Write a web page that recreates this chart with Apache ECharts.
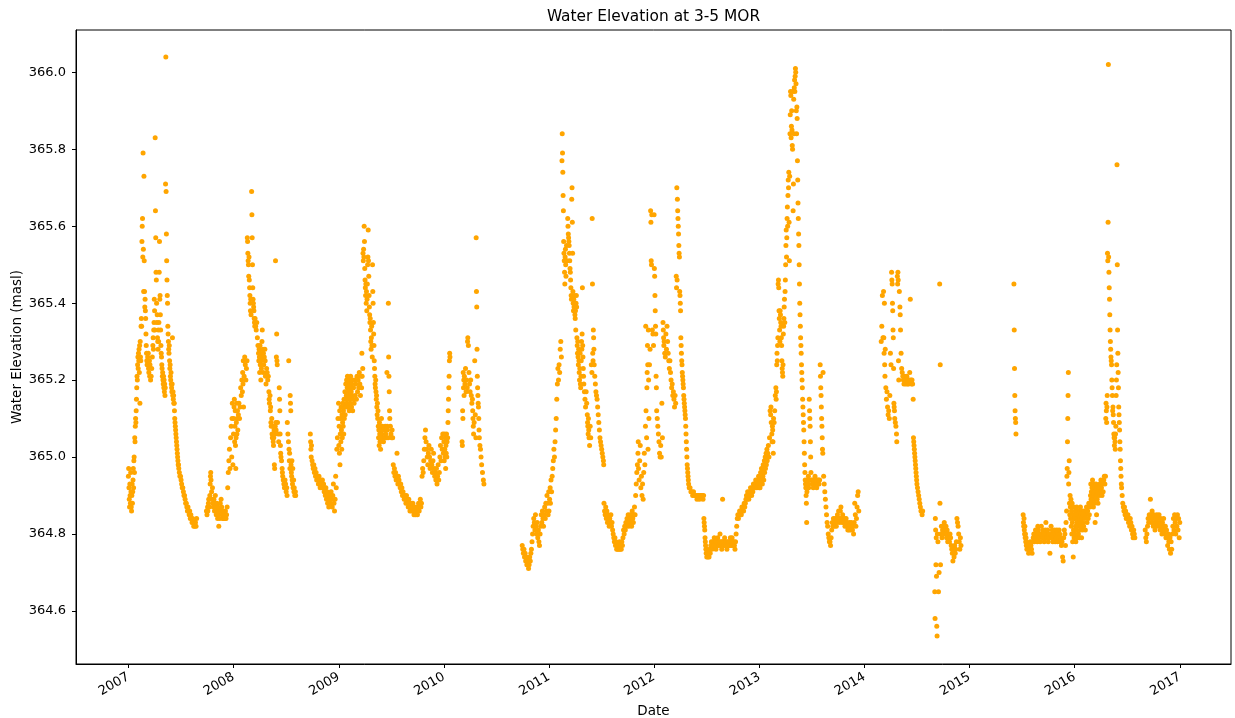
<!DOCTYPE html>
<html>
<head>
<meta charset="utf-8">
<title>Water Elevation at 3-5 MOR</title>
<script src="https://cdn.jsdelivr.net/npm/echarts@6/dist/echarts.min.js"></script>
<style>
  html, body { margin: 0; padding: 0; background: #fff; }
  #chart { width: 1235px; height: 718px; }
</style>
</head>
<body>
<div id="chart"></div>
<script>
// Daily water elevation readings (masl), one array per calendar year: [day of year, elevation]
const y2007 = [[1,364.95],[2,364.97],[3,364.92],[4,364.89],[5,364.87],[6,364.93],[7,364.90],[8,364.88],[9,364.96],[10,364.91],[11,364.87],[12,364.86],[13,364.90],[14,364.93],[15,364.88],[16,364.91],[17,364.94],[18,364.97],[19,364.92],[20,364.99],[21,365.00],[22,364.96],[23,365.05],[24,365.04],[25,365.08],[26,365.10],[27,365.09],[28,365.12],[29,365.15],[30,365.18],[31,365.21],[32,365.20],[33,365.24],[34,365.26],[35,365.23],[36,365.27],[37,365.25],[38,365.28],[39,365.22],[40,365.29],[41,365.14],[42,365.30],[43,365.26],[44,365.25],[45,365.34],[46,365.36],[47,365.34],[48,365.56],[49,365.60],[50,365.62],[51,365.52],[52,365.79],[53,365.54],[54,365.43],[55,365.73],[56,365.51],[57,365.43],[58,365.39],[59,365.41],[60,365.38],[61,365.36],[62,365.32],[63,365.29],[64,365.27],[65,365.25],[66,365.24],[68,365.26],[70,365.27],[71,365.23],[72,365.22],[74,365.25],[75,365.21],[76,365.24],[78,365.20],[80,365.21],[82,365.23],[84,365.26],[86,365.29],[87,365.31],[88,365.28],[89,365.33],[90,365.35],[91,365.41],[92,365.38],[93,365.33],[94,365.83],[95,365.64],[96,365.57],[97,365.48],[98,365.46],[99,365.40],[100,365.35],[101,365.37],[102,365.31],[103,365.30],[104,365.28],[105,365.33],[106,365.30],[107,365.35],[108,365.48],[109,365.56],[110,365.41],[111,365.42],[112,365.37],[113,365.33],[114,365.29],[115,365.27],[116,365.26],[117,365.24],[118,365.23],[119,365.21],[120,365.22],[121,365.20],[122,365.19],[123,365.21],[124,365.18],[125,365.20],[126,365.17],[127,365.19],[128,365.16],[129,365.18],[130,365.71],[131,366.04],[132,365.69],[133,365.58],[134,365.51],[135,365.46],[136,365.42],[137,365.40],[138,365.34],[139,365.32],[140,365.30],[141,365.28],[142,365.27],[143,365.29],[144,365.25],[145,365.23],[146,365.24],[147,365.21],[148,365.20],[149,365.22],[150,365.19],[151,365.18],[152,365.17],[153,365.19],[154,365.31],[155,365.16],[156,365.17],[157,365.15],[158,365.16],[159,365.14],[160,365.14],[161,365.12],[162,365.10],[163,365.09],[164,365.08],[165,365.07],[166,365.06],[167,365.05],[168,365.04],[169,365.03],[170,365.02],[171,365.01],[172,365.00],[173,364.99],[174,364.98],[175,364.98],[176,364.97],[178,364.96],[180,364.95],[182,364.95],[184,364.94],[186,364.93],[188,364.92],[190,364.92],[192,364.91],[194,364.90],[196,364.90],[198,364.89],[200,364.88],[202,364.88],[204,364.87],[206,364.86],[208,364.87],[210,364.86],[212,364.85],[214,364.86],[216,364.84],[218,364.85],[220,364.84],[222,364.83],[224,364.84],[226,364.83],[228,364.82],[230,364.83],[232,364.82],[234,364.83],[236,364.82],[238,364.84],[272,364.86],[274,364.85],[276,364.87],[277,364.86],[279,364.88],[280,364.89],[282,364.87],[284,364.90],[285,364.93],[286,364.95],[287,364.96],[288,364.94],[290,364.91],[291,364.89],[293,364.92],[294,364.88],[296,364.87],[298,364.89],[300,364.86],[301,364.88],[303,364.90],[304,364.87],[306,364.85],[308,364.88],[309,364.86],[311,364.84],[312,364.87],[314,364.85],[315,364.82],[317,364.86],[318,364.84],[320,364.88],[322,364.86],[323,364.89],[325,364.87],[327,364.85],[328,364.84],[330,364.86],[332,364.84],[334,364.85],[336,364.84],[338,364.86],[340,364.84],[342,364.85],[344,364.87],[346,364.92],[348,364.96],[350,364.99],[352,365.02],[354,364.97],[356,365.05],[358,365.08],[360,365.00],[361,365.10],[362,365.14],[364,364.98]];

const y2008 = [[1,365.06],[2,365.10],[3,365.13],[4,365.15],[5,365.04],[6,365.08],[7,365.12],[8,365.03],[9,364.97],[10,365.05],[11,365.09],[12,365.14],[13,365.06],[14,365.10],[15,365.12],[16,365.07],[18,365.11],[20,365.14],[22,365.10],[24,365.13],[26,365.18],[28,365.16],[30,365.20],[32,365.17],[33,365.22],[34,365.19],[35,365.25],[36,365.13],[38,365.21],[40,365.26],[42,365.24],[44,365.20],[46,365.23],[48,365.25],[49,365.57],[50,365.56],[51,365.53],[52,365.51],[53,365.50],[54,365.47],[55,365.52],[56,365.46],[57,365.44],[58,365.42],[59,365.40],[60,365.38],[61,365.41],[62,365.37],[64,365.69],[65,365.63],[66,365.57],[67,365.50],[68,365.44],[69,365.41],[70,365.40],[71,365.39],[72,365.38],[73,365.36],[74,365.35],[75,365.34],[76,365.36],[78,365.34],[80,365.33],[82,365.35],[84,365.31],[86,365.29],[88,365.27],[89,365.25],[90,365.28],[91,365.26],[92,365.22],[93,365.29],[94,365.24],[95,365.27],[96,365.20],[97,365.25],[98,365.23],[100,365.30],[101,365.33],[102,365.26],[103,365.28],[104,365.22],[105,365.27],[106,365.24],[108,365.26],[110,365.28],[111,365.25],[112,365.21],[114,365.19],[116,365.23],[118,365.22],[120,365.20],[122,365.21],[124,365.17],[125,365.15],[126,365.14],[128,365.16],[129,365.12],[130,365.13],[131,365.09],[132,365.08],[134,365.10],[135,365.06],[136,365.05],[138,365.08],[139,365.04],[140,365.03],[141,365.05],[142,365.07],[143,364.98],[144,364.97],[145,365.06],[146,365.08],[147,365.51],[148,365.09],[149,365.07],[150,365.26],[151,365.32],[152,365.25],[153,365.24],[154,365.09],[156,365.06],[158,365.04],[160,365.18],[161,365.15],[162,365.12],[163,365.06],[164,365.03],[165,365.01],[166,365.00],[168,364.99],[170,364.97],[171,364.96],[172,364.95],[174,364.94],[176,364.93],[178,364.92],[180,364.94],[182,364.93],[184,364.91],[186,364.92],[187,364.90],[188,365.09],[190,365.06],[192,365.04],[193,365.25],[194,365.02],[195,364.99],[196,365.01],[197,364.97],[198,365.16],[199,365.14],[200,365.12],[201,364.98],[202,364.96],[203,364.95],[204,364.99],[205,364.94],[206,364.93],[207,364.97],[208,364.92],[210,364.94],[211,364.91],[212,364.92],[214,364.90],[216,364.91],[217,364.90],[268,365.06],[269,365.04],[270,365.02],[271,365.00],[272,365.03],[274,364.99],[276,364.98],[278,364.97],[280,364.98],[282,364.96],[284,364.97],[286,364.95],[288,364.96],[290,364.94],[292,364.95],[294,364.94],[296,364.93],[298,364.95],[300,364.93],[302,364.92],[304,364.94],[306,364.93],[308,364.92],[310,364.94],[312,364.92],[314,364.93],[316,364.91],[318,364.92],[320,364.90],[322,364.92],[324,364.89],[326,364.91],[328,364.88],[330,364.90],[332,364.87],[334,364.89],[336,364.90],[338,364.88],[340,364.91],[342,364.89],[344,364.87],[346,364.90],[348,364.93],[350,364.88],[352,364.86],[354,364.89],[356,364.95],[358,364.92],[360,365.02],[362,365.05],[364,365.10],[366,365.14]];

const y2009 = [[1,365.03],[2,365.08],[3,365.01],[4,365.12],[5,364.98],[6,365.06],[7,365.10],[8,365.04],[9,365.13],[10,365.07],[11,365.02],[12,365.11],[13,365.05],[14,365.09],[15,365.14],[16,365.08],[17,365.12],[18,365.06],[19,365.15],[20,365.10],[21,365.13],[22,365.17],[23,365.11],[24,365.15],[25,365.19],[26,365.13],[27,365.16],[28,365.20],[29,365.14],[30,365.18],[31,365.21],[32,365.15],[33,365.19],[34,365.13],[35,365.17],[36,365.20],[37,365.12],[38,365.16],[39,365.19],[40,365.14],[41,365.18],[42,365.21],[43,365.15],[44,365.17],[45,365.13],[46,365.19],[47,365.16],[48,365.20],[49,365.12],[50,365.15],[52,365.18],[54,365.14],[56,365.20],[58,365.16],[60,365.19],[62,365.15],[64,365.21],[66,365.17],[68,365.20],[70,365.18],[72,365.22],[74,365.19],[76,365.16],[78,365.21],[80,365.18],[81,365.27],[82,365.21],[84,365.23],[85,365.53],[86,365.51],[87,365.54],[88,365.52],[89,365.60],[90,365.56],[91,365.49],[92,365.46],[93,365.44],[94,365.42],[95,365.45],[96,365.40],[97,365.43],[98,365.38],[99,365.41],[100,365.45],[101,365.50],[102,365.52],[103,365.59],[104,365.51],[105,365.47],[106,365.42],[107,365.39],[108,365.37],[109,365.35],[110,365.36],[111,365.33],[112,365.30],[113,365.28],[114,365.31],[115,365.34],[116,365.29],[117,365.26],[118,365.50],[119,365.43],[120,365.40],[121,365.35],[122,365.32],[123,365.29],[124,365.25],[125,365.23],[126,365.21],[127,365.19],[128,365.18],[129,365.20],[130,365.17],[131,365.15],[132,365.16],[133,365.13],[134,365.11],[135,365.14],[136,365.10],[137,365.12],[138,365.08],[139,365.05],[140,365.07],[141,365.03],[142,365.09],[143,365.06],[144,365.04],[145,365.08],[146,365.02],[147,365.07],[148,365.05],[149,365.10],[150,365.06],[152,365.08],[154,365.05],[156,365.04],[158,365.07],[160,365.05],[162,365.08],[164,365.06],[166,365.05],[168,365.22],[169,365.08],[170,365.07],[172,365.05],[173,365.40],[174,365.26],[175,365.21],[176,365.17],[177,365.12],[178,365.10],[180,365.08],[182,365.06],[184,365.05],[186,365.07],[188,365.05],[190,364.98],[192,364.96],[194,364.97],[196,364.95],[198,364.96],[200,364.94],[203,365.01],[204,364.95],[206,364.93],[208,364.95],[210,364.94],[212,364.93],[214,364.92],[216,364.93],[218,364.91],[220,364.92],[222,364.90],[224,364.91],[226,364.90],[228,364.89],[230,364.90],[232,364.89],[234,364.88],[236,364.90],[238,364.89],[240,364.88],[242,364.87],[244,364.89],[246,364.88],[248,364.86],[250,364.87],[252,364.88],[254,364.86],[256,364.87],[258,364.88],[260,364.86],[262,364.85],[264,364.87],[266,364.86],[268,364.85],[270,364.86],[272,364.87],[274,364.85],[276,364.86],[278,364.88],[280,364.86],[282,364.87],[284,364.89],[286,364.87],[288,364.88],[290,364.95],[292,364.97],[294,364.96],[296,364.99],[298,365.02],[300,365.05],[302,365.07],[304,365.04],[306,365.02],[308,365.00],[310,364.98],[312,365.01],[314,365.03],[316,365.00],[318,364.97],[320,364.99],[322,365.02],[324,364.98],[326,364.96],[328,364.99],[330,365.01],[332,364.97],[334,364.95],[336,364.96],[338,364.94],[340,364.97],[342,364.93],[344,364.95],[346,364.98],[348,364.94],[350,364.96],[352,365.00],[354,365.03],[356,364.99],[358,365.05],[360,365.02],[362,365.06],[364,365.01]];

const y2010 = [[1,365.04],[2,364.99],[3,365.06],[4,365.02],[5,365.00],[6,365.05],[7,364.97],[8,365.03],[9,365.01],[10,365.06],[11,365.00],[12,365.04],[14,365.05],[15,365.09],[16,365.12],[17,365.15],[18,365.18],[19,365.21],[20,365.25],[21,365.27],[22,365.26],[64,365.04],[65,365.03],[66,365.12],[67,365.10],[68,365.22],[69,365.18],[70,365.20],[71,365.16],[72,365.21],[74,365.19],[76,365.23],[78,365.17],[80,365.20],[82,365.18],[83,365.30],[84,365.31],[86,365.29],[88,365.22],[90,365.19],[92,365.17],[94,365.20],[96,365.16],[98,365.14],[100,365.15],[101,365.12],[102,365.10],[103,365.08],[104,365.06],[106,365.09],[108,365.25],[110,365.11],[112,365.05],[113,365.57],[114,365.43],[115,365.39],[116,365.28],[117,365.21],[118,365.18],[119,365.16],[120,365.14],[121,365.13],[122,365.10],[123,365.07],[124,365.05],[126,365.03],[128,365.02],[130,365.00],[132,364.98],[135,364.96],[138,364.94],[140,364.93],[273,364.77],[275,364.76],[277,364.75],[279,364.76],[281,364.74],[283,364.75],[285,364.73],[287,364.74],[289,364.72],[291,364.73],[293,364.72],[295,364.71],[297,364.72],[299,364.74],[301,364.73],[303,364.75],[305,364.76],[307,364.78],[309,364.80],[311,364.82],[313,364.84],[315,364.83],[317,364.81],[319,364.85],[321,364.82],[323,364.80],[325,364.83],[327,364.79],[329,364.81],[331,364.78],[333,364.77],[335,364.80],[337,364.82],[339,364.85],[341,364.83],[343,364.86],[345,364.84],[347,364.82],[349,364.85],[351,364.87],[353,364.84],[355,364.88],[357,364.86],[359,364.90],[361,364.88],[363,364.85],[365,364.91]];

const y2011 = [[1,364.86],[3,364.89],[5,364.92],[6,364.88],[8,364.94],[10,364.91],[12,364.95],[14,364.97],[16,364.99],[18,365.02],[20,365.00],[22,365.04],[24,365.07],[26,365.10],[28,365.15],[30,365.19],[32,365.23],[34,365.20],[36,365.24],[38,365.22],[40,365.28],[42,365.30],[44,365.26],[46,365.77],[47,365.84],[48,365.79],[49,365.74],[50,365.68],[51,365.64],[52,365.56],[53,365.53],[54,365.51],[55,365.48],[56,365.45],[57,365.52],[58,365.54],[59,365.50],[60,365.47],[62,365.55],[64,365.51],[66,365.62],[67,365.60],[68,365.58],[69,365.57],[70,365.56],[71,365.55],[72,365.53],[73,365.51],[74,365.49],[75,365.48],[76,365.46],[77,365.44],[78,365.42],[79,365.41],[80,365.67],[81,365.70],[82,365.61],[83,365.53],[84,365.43],[85,365.40],[86,365.38],[87,365.41],[88,365.39],[89,365.42],[90,365.40],[91,365.37],[92,365.36],[93,365.38],[94,365.33],[95,365.40],[96,365.42],[97,365.39],[98,365.31],[99,365.29],[100,365.27],[101,365.30],[102,365.26],[103,365.24],[104,365.28],[105,365.25],[106,365.22],[107,365.20],[108,365.23],[109,365.27],[110,365.19],[111,365.18],[112,365.21],[113,365.25],[114,365.30],[115,365.28],[116,365.32],[117,365.44],[118,365.29],[119,365.26],[120,365.23],[121,365.21],[122,365.19],[124,365.17],[126,365.15],[128,365.13],[130,365.17],[132,365.14],[134,365.11],[135,365.09],[136,365.08],[137,365.06],[138,365.10],[139,365.07],[140,365.05],[142,365.03],[144,365.08],[146,365.05],[148,365.24],[150,365.22],[151,365.62],[152,365.45],[153,365.27],[154,365.25],[155,365.33],[156,365.31],[157,365.28],[158,365.24],[160,365.21],[162,365.19],[164,365.17],[166,365.16],[168,365.15],[170,365.13],[172,365.11],[174,365.09],[176,365.07],[178,365.05],[180,365.04],[182,365.03],[184,365.02],[186,365.01],[188,365.00],[190,364.99],[191,364.98],[192,364.88],[194,364.86],[196,364.85],[198,364.87],[200,364.84],[202,364.86],[204,364.83],[206,364.85],[208,364.84],[210,364.82],[212,364.84],[214,364.83],[216,364.85],[218,364.82],[220,364.83],[222,364.81],[224,364.80],[226,364.79],[228,364.78],[230,364.79],[232,364.77],[234,364.78],[236,364.76],[238,364.77],[240,364.76],[242,364.77],[244,364.76],[246,364.78],[248,364.76],[250,364.77],[252,364.76],[254,364.78],[256,364.77],[258,364.79],[260,364.81],[262,364.80],[264,364.82],[266,364.81],[268,364.83],[270,364.82],[272,364.84],[274,364.83],[276,364.85],[278,364.82],[280,364.84],[282,364.83],[284,364.85],[286,364.84],[288,364.82],[290,364.86],[292,364.84],[294,364.83],[296,364.85],[298,364.87],[300,364.85],[302,364.90],[304,364.93],[306,364.96],[308,364.98],[310,365.01],[311,365.04],[312,364.97],[314,364.94],[316,364.99],[318,365.03],[320,364.92],[322,364.95],[324,364.90],[326,364.93],[328,364.89],[330,364.96],[332,365.01],[334,364.98],[336,365.08],[337,365.34],[338,365.12],[340,365.05],[341,365.18],[342,365.22],[343,365.29],[344,365.24],[345,365.02],[346,365.33],[347,365.20],[348,365.10],[350,365.24],[352,365.28],[354,365.64],[355,365.61],[356,365.51],[357,365.50],[358,365.63],[360,365.33],[362,365.32],[364,365.29]];

const y2012 = [[1,365.63],[2,365.49],[3,365.47],[4,365.42],[5,365.38],[6,365.34],[7,365.32],[8,365.21],[9,365.18],[10,365.12],[12,365.10],[14,365.08],[16,365.06],[18,365.04],[20,365.01],[22,365.00],[24,365.03],[26,365.00],[28,365.14],[30,365.05],[32,365.35],[33,365.33],[34,365.31],[35,365.29],[36,365.30],[38,365.27],[40,365.26],[42,365.32],[44,365.28],[46,365.34],[48,365.30],[50,365.27],[52,365.25],[54,365.23],[56,365.25],[58,365.22],[60,365.20],[62,365.18],[64,365.19],[66,365.16],[68,365.17],[70,365.15],[72,365.13],[74,365.16],[76,365.14],[78,365.47],[79,365.44],[80,365.70],[81,365.46],[82,365.67],[83,365.64],[84,365.62],[85,365.60],[86,365.58],[87,365.55],[88,365.53],[89,365.52],[90,365.43],[91,365.42],[92,365.40],[93,365.38],[94,365.31],[95,365.29],[96,365.27],[97,365.25],[98,365.24],[99,365.22],[100,365.21],[101,365.20],[102,365.19],[103,365.18],[104,365.16],[105,365.15],[106,365.14],[107,365.13],[108,365.12],[109,365.11],[110,365.10],[111,365.08],[112,365.06],[113,365.04],[114,365.02],[115,365.00],[116,364.98],[117,364.97],[118,364.96],[119,364.95],[120,364.94],[121,364.93],[123,364.92],[126,364.92],[129,364.91],[132,364.91],[135,364.90],[138,364.91],[141,364.90],[144,364.90],[147,364.90],[150,364.89],[153,364.90],[156,364.90],[159,364.89],[162,364.90],[165,364.90],[168,364.90],[171,364.89],[173,364.90],[174,364.84],[175,364.83],[176,364.82],[177,364.81],[178,364.79],[179,364.78],[180,364.77],[181,364.76],[182,364.75],[183,364.76],[184,364.74],[186,364.75],[188,364.74],[190,364.75],[192,364.74],[194,364.76],[196,364.75],[198,364.77],[200,364.78],[202,364.76],[204,364.77],[206,364.78],[208,364.77],[210,364.79],[212,364.77],[214,364.78],[216,364.76],[218,364.78],[220,364.77],[222,364.79],[224,364.78],[226,364.77],[228,364.78],[230,364.80],[232,364.77],[234,364.78],[236,364.76],[238,364.78],[239,364.89],[240,364.77],[242,364.78],[244,364.77],[246,364.79],[248,364.78],[250,364.77],[252,364.78],[254,364.76],[256,364.77],[258,364.78],[260,364.77],[262,364.78],[264,364.77],[266,364.79],[268,364.78],[270,364.77],[272,364.79],[274,364.78],[276,364.77],[278,364.78],[280,364.77],[282,364.76],[284,364.78],[286,364.80],[288,364.82],[290,364.84],[292,364.85],[294,364.84],[296,364.85],[298,364.86],[300,364.85],[302,364.86],[304,364.85],[306,364.87],[308,364.86],[310,364.87],[312,364.86],[314,364.88],[316,364.87],[318,364.88],[320,364.89],[322,364.90],[324,364.89],[326,364.91],[328,364.90],[330,364.89],[332,364.91],[334,364.90],[336,364.92],[338,364.91],[340,364.90],[342,364.92],[344,364.91],[346,364.93],[348,364.92],[350,364.93],[352,364.92],[354,364.94],[356,364.93],[358,364.92],[360,364.94],[362,364.93],[364,364.95],[366,364.92]];

const y2013 = [[1,364.93],[2,364.95],[3,364.92],[4,364.94],[5,364.96],[6,364.93],[7,364.95],[8,364.97],[9,364.94],[10,364.96],[11,364.93],[12,364.97],[13,364.95],[14,364.98],[15,364.96],[16,364.94],[17,364.97],[18,364.99],[19,364.96],[20,364.98],[21,365.00],[22,364.97],[23,364.99],[24,365.01],[25,364.98],[26,365.00],[27,365.02],[28,364.99],[30,365.01],[32,365.03],[34,365.00],[36,365.05],[38,365.12],[40,365.11],[41,365.13],[42,365.09],[44,365.06],[45,365.04],[46,365.08],[47,365.07],[48,365.04],[49,365.01],[50,365.10],[52,365.09],[54,365.12],[56,365.16],[58,365.18],[59,365.15],[60,365.17],[61,365.24],[62,365.27],[63,365.25],[64,365.29],[65,365.31],[66,365.45],[67,365.46],[68,365.44],[69,365.38],[70,365.36],[71,365.33],[72,365.30],[73,365.38],[74,365.37],[75,365.35],[76,365.34],[77,365.31],[78,365.29],[79,365.25],[80,365.23],[81,365.22],[82,365.21],[83,365.24],[84,365.32],[85,365.34],[86,365.36],[87,365.39],[88,365.41],[89,365.35],[90,365.43],[91,365.46],[92,365.50],[93,365.55],[94,365.59],[95,365.52],[96,365.57],[97,365.62],[98,365.65],[99,365.60],[100,365.68],[101,365.72],[102,365.70],[103,365.74],[104,365.61],[105,365.51],[106,365.73],[107,365.84],[108,365.89],[109,365.95],[110,365.94],[111,365.83],[112,365.86],[113,365.90],[114,365.85],[115,365.81],[116,365.80],[117,365.95],[118,365.64],[119,365.71],[120,365.93],[121,365.84],[122,365.96],[123,365.98],[124,365.95],[125,365.99],[126,366.01],[127,366.00],[128,365.97],[129,365.90],[130,365.84],[131,365.91],[132,365.88],[133,365.77],[134,365.72],[135,365.66],[136,365.62],[137,365.58],[138,365.55],[139,365.50],[140,365.45],[141,365.40],[142,365.37],[143,365.34],[144,365.31],[145,365.29],[146,365.27],[147,365.24],[148,365.22],[149,365.20],[150,365.18],[151,365.15],[152,365.13],[153,365.11],[154,365.09],[155,365.07],[156,365.04],[157,365.01],[158,364.98],[159,364.96],[160,364.94],[161,364.93],[162,364.92],[163,364.90],[164,364.88],[165,364.83],[166,364.91],[167,364.93],[168,364.94],[169,364.92],[170,364.93],[171,364.95],[172,364.92],[173,364.94],[174,365.15],[175,365.12],[176,365.10],[177,365.08],[178,365.04],[179,365.00],[180,364.96],[182,364.94],[184,364.93],[186,364.94],[188,364.92],[190,364.94],[192,364.93],[194,364.95],[196,364.93],[198,364.94],[200,364.92],[202,364.94],[204,364.93],[206,364.94],[208,364.93],[210,364.94],[212,365.24],[213,365.21],[214,365.18],[215,365.16],[216,365.13],[217,365.10],[218,365.08],[219,365.05],[220,365.02],[221,365.01],[222,365.22],[224,364.95],[226,364.93],[228,364.91],[230,364.89],[232,364.87],[234,364.85],[236,364.83],[238,364.82],[240,364.80],[242,364.79],[244,364.78],[246,364.78],[248,364.77],[250,364.79],[252,364.81],[254,364.83],[256,364.82],[258,364.84],[260,364.83],[262,364.82],[264,364.84],[266,364.83],[268,364.82],[270,364.84],[272,364.85],[274,364.84],[276,364.86],[278,364.83],[280,364.84],[282,364.86],[284,364.87],[286,364.84],[288,364.83],[290,364.85],[292,364.84],[294,364.83],[296,364.84],[298,364.82],[300,364.83],[302,364.84],[304,364.82],[306,364.83],[308,364.81],[310,364.82],[312,364.81],[314,364.83],[316,364.82],[318,364.81],[320,364.83],[322,364.82],[324,364.81],[326,364.82],[328,364.80],[330,364.83],[332,364.88],[334,364.85],[336,364.82],[338,364.84],[340,364.87],[342,364.90],[344,364.91],[346,364.86]];

const y2014 = [[59,365.30],[61,365.34],[63,365.42],[65,365.31],[67,365.43],[68,365.31],[69,365.27],[70,365.40],[71,365.24],[72,365.21],[73,365.28],[75,365.18],[77,365.15],[79,365.17],[81,365.13],[83,365.11],[85,365.12],[87,365.10],[89,365.16],[91,365.27],[93,365.24],[95,365.48],[96,365.46],[97,365.45],[98,365.40],[99,365.38],[100,365.33],[101,365.31],[102,365.23],[103,365.14],[104,365.13],[105,365.12],[106,365.10],[108,365.09],[110,365.08],[112,365.06],[113,365.04],[115,365.47],[116,365.45],[117,365.48],[118,365.46],[119,365.25],[120,365.20],[122,365.43],[124,365.39],[125,365.37],[126,365.33],[128,365.27],[130,365.23],[132,365.22],[134,365.21],[136,365.20],[138,365.19],[140,365.21],[142,365.20],[144,365.19],[146,365.20],[148,365.21],[150,365.19],[152,365.20],[154,365.19],[156,365.20],[158,365.22],[160,365.41],[162,365.20],[164,365.19],[166,365.20],[168,365.19],[170,365.15],[171,365.05],[172,365.04],[173,365.03],[174,365.02],[175,365.01],[176,365.00],[177,364.99],[178,364.98],[179,364.97],[180,364.96],[181,364.95],[182,364.94],[183,364.93],[185,364.92],[187,364.91],[189,364.90],[191,364.89],[193,364.88],[195,364.87],[197,364.86],[199,364.86],[201,364.85],[203,364.86],[245,364.65],[246,364.58],[247,364.84],[248,364.81],[249,364.72],[250,364.79],[251,364.69],[252,364.56],[253,364.535],[254,364.80],[256,364.78],[258,364.65],[260,364.70],[262,365.45],[263,364.88],[264,365.24],[265,364.72],[266,364.80],[268,364.82],[270,364.79],[272,364.81],[274,364.80],[276,364.82],[278,364.83],[280,364.81],[282,364.80],[284,364.82],[286,364.79],[288,364.81],[290,364.78],[292,364.80],[294,364.79],[296,364.78],[298,364.80],[300,364.79],[302,364.77],[304,364.76],[306,364.75],[308,364.73],[310,364.76],[312,364.74],[314,364.77],[316,364.75],[318,364.76],[320,364.78],[322,364.84],[324,364.83],[326,364.82],[328,364.80],[330,364.78],[332,364.76],[334,364.79],[336,364.77]];

const y2015 = [[155,365.45],[156,365.33],[157,365.23],[158,365.16],[159,365.12],[160,365.10],[161,365.09],[162,365.06],[187,364.85],[188,364.83],[189,364.82],[190,364.84],[191,364.81],[192,364.80],[193,364.82],[194,364.79],[195,364.80],[196,364.78],[197,364.79],[198,364.77],[199,364.78],[200,364.76],[202,364.77],[204,364.76],[206,364.75],[208,364.77],[210,364.76],[212,364.78],[214,364.77],[216,364.76],[218,364.75],[220,364.78],[222,364.79],[224,364.80],[226,364.78],[228,364.79],[230,364.81],[232,364.79],[234,364.80],[236,364.78],[238,364.82],[240,364.81],[242,364.79],[244,364.80],[246,364.78],[248,364.80],[250,364.82],[252,364.80],[254,364.79],[256,364.81],[258,364.80],[260,364.78],[262,364.79],[264,364.81],[266,364.83],[268,364.80],[270,364.79],[272,364.81],[274,364.78],[276,364.80],[278,364.79],[280,364.75],[282,364.80],[284,364.82],[286,364.79],[288,364.81],[290,364.78],[292,364.80],[294,364.79],[296,364.81],[298,364.78],[300,364.80],[302,364.79],[304,364.81],[306,364.78],[308,364.80],[310,364.79],[312,364.81],[314,364.80],[316,364.78],[318,364.79],[320,364.77],[322,364.78],[324,364.74],[326,364.73],[328,364.79],[330,364.81],[332,364.80],[334,364.77],[336,364.83],[338,364.86],[339,364.95],[340,364.97],[341,365.04],[342,365.10],[343,365.16],[344,365.22],[345,364.93],[346,364.96],[347,364.99],[348,364.88],[349,364.85],[350,364.90],[351,364.87],[352,364.84],[353,364.89],[354,364.82],[355,364.86],[356,364.80],[357,364.88],[358,364.83],[359,364.78],[360,364.85],[361,364.74],[362,364.81],[363,364.87],[364,364.79],[365,364.84]];

const y2016 = [[1,364.84],[2,364.80],[3,364.86],[4,364.82],[5,364.78],[6,364.85],[7,364.81],[8,364.87],[9,364.83],[10,364.79],[11,364.84],[12,364.86],[13,364.82],[14,364.80],[15,364.85],[16,364.83],[17,364.79],[18,364.86],[19,364.84],[20,364.81],[21,364.87],[22,364.83],[23,364.85],[24,364.82],[25,364.79],[26,364.84],[27,364.86],[28,364.81],[29,364.83],[30,364.85],[32,364.82],[34,364.86],[36,364.84],[38,364.81],[40,364.85],[42,364.87],[44,364.83],[46,364.86],[48,364.84],[50,364.88],[52,364.85],[54,364.87],[56,364.90],[57,364.93],[58,364.89],[59,364.91],[60,364.88],[61,364.92],[62,364.90],[63,364.94],[64,364.89],[65,364.92],[66,364.87],[67,364.90],[68,364.93],[69,364.91],[70,364.88],[71,364.92],[72,364.83],[73,364.89],[74,364.91],[75,364.93],[76,364.90],[77,364.85],[78,364.92],[79,364.89],[80,364.91],[82,364.88],[84,364.92],[86,364.90],[88,364.93],[90,364.91],[92,364.94],[94,364.92],[96,364.90],[98,364.93],[100,364.91],[102,364.94],[104,364.95],[106,364.93],[108,364.95],[109,365.10],[110,365.14],[111,365.12],[112,365.09],[113,365.13],[114,365.16],[115,365.53],[116,365.51],[117,365.61],[118,366.02],[119,365.52],[120,365.48],[121,365.44],[122,365.41],[123,365.37],[124,365.33],[125,365.30],[126,365.28],[127,365.26],[128,365.25],[129,365.24],[130,365.20],[131,365.18],[132,365.16],[133,365.12],[134,365.13],[135,365.11],[136,365.09],[137,365.06],[138,365.05],[139,365.03],[140,365.05],[141,365.04],[142,365.02],[143,365.06],[144,365.08],[145,365.16],[146,365.20],[147,365.24],[148,365.76],[149,365.50],[150,365.33],[151,365.27],[152,365.22],[153,365.18],[154,365.13],[155,365.11],[156,365.09],[157,365.07],[158,365.04],[159,365.02],[160,364.99],[161,364.97],[162,364.95],[163,364.93],[164,364.92],[166,364.90],[168,364.88],[170,364.87],[172,364.86],[174,364.87],[176,364.85],[178,364.86],[180,364.84],[182,364.85],[184,364.84],[186,364.85],[188,364.83],[190,364.84],[192,364.82],[194,364.84],[196,364.83],[198,364.81],[200,364.82],[202,364.80],[204,364.79],[206,364.81],[208,364.80],[210,364.79],[246,364.81],[248,364.79],[250,364.78],[252,364.80],[254,364.82],[256,364.84],[258,364.83],[260,364.85],[262,364.84],[264,364.89],[266,364.85],[268,364.83],[270,364.86],[272,364.84],[274,364.82],[276,364.85],[278,364.83],[280,364.81],[282,364.84],[284,364.82],[286,364.85],[288,364.83],[290,364.84],[292,364.82],[294,364.85],[296,364.83],[298,364.81],[300,364.84],[302,364.82],[304,364.80],[306,364.83],[308,364.81],[310,364.84],[312,364.82],[314,364.80],[316,364.82],[318,364.79],[320,364.81],[322,364.79],[324,364.77],[326,364.80],[328,364.78],[330,364.76],[332,364.79],[334,364.75],[336,364.78],[338,364.76],[340,364.80],[342,364.82],[344,364.84],[346,364.81],[348,364.85],[350,364.83],[352,364.80],[354,364.84],[356,364.82],[358,364.85],[360,364.81],[362,364.84],[364,364.79],[366,364.83]];

const yearSeries = {2007: y2007, 2008: y2008, 2009: y2009, 2010: y2010, 2011: y2011,
                    2012: y2012, 2013: y2013, 2014: y2014, 2015: y2015, 2016: y2016};

// Axis ticks
const xTickYears = [2007, 2008, 2009, 2010, 2011, 2012, 2013, 2014, 2015, 2016, 2017];
const yTickValues = [364.6, 364.8, 365.0, 365.2, 365.4, 365.6, 365.8, 366.0];

// The x axis is a numeric axis in epoch milliseconds, labelled with the year at each Jan 1st
const DAY = 86400000;
const points = [];
Object.keys(yearSeries).forEach(function (yr) {
  const start = Date.UTC(+yr, 0, 1);
  yearSeries[yr].forEach(function (p) {
    points.push([start + (p[0] - 1) * DAY, p[1]]);
  });
});
const xTicks = xTickYears.map(function (y) { return Date.UTC(y, 0, 1); });

const FONT = 'DejaVu Sans';
const chart = echarts.init(document.getElementById('chart'), null, { renderer: 'canvas' });
chart.setOption({
  animation: false,
  backgroundColor: '#ffffff',
  textStyle: { fontFamily: FONT },
  title: {
    text: 'Water Elevation at 3-5 MOR',
    left: 653.5,
    top: 9,
    padding: 0,
    textAlign: 'center',
    textStyle: { fontFamily: FONT, fontSize: 15.4, fontWeight: 'normal', color: '#000' }
  },
  grid: {
    left: 76, right: 4, top: 30, bottom: 54,
    outerBoundsMode: 'none',
    containLabel: false,
    show: true, borderColor: '#000', borderWidth: 1, backgroundColor: 'transparent'
  },
  xAxis: {
    type: 'value',
    min: Date.UTC(2006, 6, 3),
    max: Date.UTC(2017, 5, 27),
    scale: true,
    name: 'Date',
    nameLocation: 'middle',
    nameGap: 40,
    nameMoveOverlap: false,
    nameTextStyle: { fontFamily: FONT, fontSize: 13.5, color: '#000' },
    axisLine: { show: true, onZero: false, lineStyle: { color: '#000', width: 1 } },
    axisTick: { show: true, length: 4, inside: false, customValues: xTicks, lineStyle: { color: '#000' } },
    axisLabel: {
      customValues: xTicks,
      rotate: 30,
      margin: 12,
      fontFamily: FONT, fontSize: 13, color: '#000',
      formatter: function (v) { return String(new Date(v).getUTCFullYear()); }
    },
    splitLine: { show: false }
  },
  yAxis: {
    type: 'value',
    min: 364.462,
    max: 366.110,
    scale: true,
    name: 'Water Elevation (masl)',
    nameLocation: 'middle',
    nameRotate: 90,
    nameGap: 52,
    nameMoveOverlap: false,
    nameTextStyle: { fontFamily: FONT, fontSize: 13.5, color: '#000' },
    axisLine: { show: true, onZero: false, lineStyle: { color: '#000', width: 1 } },
    axisTick: { show: true, length: 4, inside: false, customValues: yTickValues, lineStyle: { color: '#000' } },
    axisLabel: {
      customValues: yTickValues,
      margin: 10,
      fontFamily: FONT, fontSize: 13, color: '#000',
      formatter: function (v) { return v.toFixed(1); }
    },
    splitLine: { show: false }
  },
  series: [{
    type: 'scatter',
    data: points,
    symbol: 'circle',
    symbolSize: 5,
    itemStyle: { color: '#FFA500', opacity: 1 },
    large: false
  }]
});
</script>
</body>
</html>
